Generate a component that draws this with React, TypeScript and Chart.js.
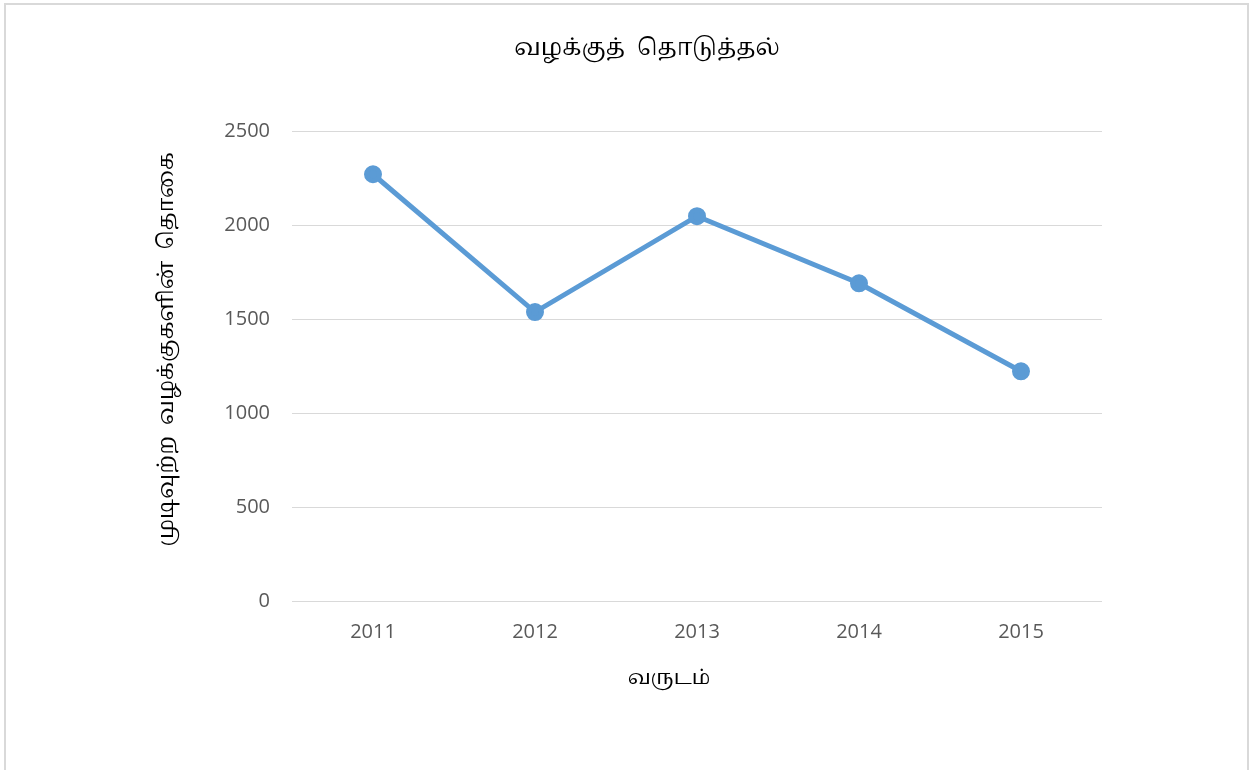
import React, { useEffect, useRef } from "react";
import { Chart, registerables } from "chart.js";

Chart.register(...registerables);

const years = ["2011", "2012", "2013", "2014", "2015"];
const completedCases = [2270, 1537, 2047, 1690, 1222];
const chartTitle = "வழக்குத்  தொடுத்தல்";
const yTitle = "முடிவுற்ற  வழக்குகளின்  தொகை";
const xTitle = "வருடம்";

const tamilFont = "'Noto Serif Tamil', 'Noto Sans Tamil', serif";
const tickFont = "'Open Sans', 'Noto Sans', sans-serif";

const titlesPlugin = {
  id: "customTitles",
  afterDraw(chart: any) {
    const ctx = chart.ctx;
    ctx.save();
    ctx.fillStyle = "#000000";
    ctx.textAlign = "center";
    ctx.textBaseline = "middle";
    ctx.font = `23px ${tamilFont}`;
    ctx.fillText(chartTitle, 647, 51);
    ctx.font = `20px ${tamilFont}`;
    ctx.fillText(xTitle, 669, 680);
    ctx.font = `21.5px ${tamilFont}`;
    ctx.translate(169, 349);
    ctx.rotate(-Math.PI / 2);
    ctx.fillText(yTitle, 0, 0);
    ctx.restore();
  },
};

export default function App() {
  const ref = useRef<HTMLCanvasElement | null>(null);
  useEffect(() => {
    if (!ref.current) return;
    const chart = new Chart(ref.current, {
      type: "line",
      data: {
        labels: years,
        datasets: [
          {
            data: completedCases,
            borderColor: "#5b9bd5",
            backgroundColor: "#5b9bd5",
            borderWidth: 5,
            pointRadius: 6.5,
            pointHoverRadius: 6.5,
            pointBackgroundColor: "#5b9bd5",
            pointBorderColor: "#5b9bd5",
            tension: 0,
          },
        ],
      },
      plugins: [titlesPlugin],
      options: {
        responsive: false,
        animation: false,
        layout: { padding: { left: 150, right: 151, top: 131, bottom: 60 } },
        plugins: {
          legend: { display: false },
          tooltip: { enabled: false },
          title: { display: false },
        },
        scales: {
          x: {
            offset: true,
            grid: { display: false, drawTicks: false },
            border: { display: false },
            ticks: { color: "#595959", font: { family: tickFont, size: 20 }, padding: 19 },
            afterFit: (s: any) => {
              s.height = 109;
            },
          },
          y: {
            min: 0,
            max: 2500,
            ticks: {
              stepSize: 500,
              color: "#595959",
              font: { family: tickFont, size: 20 },
              padding: 22,
              callback: (v: any) => String(v),
            },
            grid: { color: "#d9d9d9", lineWidth: 1, drawTicks: false },
            border: { display: false },
            afterFit: (s: any) => {
              s.width = 142;
            },
          },
        },
      },
    });
    return () => chart.destroy();
  }, []);

  return (
    <div style={{ position: "absolute", left: 0, top: 0, width: 1253, height: 770, overflow: "hidden", background: "#fff" }}>
      <div
        style={{
          position: "absolute",
          left: 4,
          top: 3,
          width: 1245,
          height: 800,
          border: "2px solid #d9d9d9",
          boxSizing: "border-box",
        }}
      />
      <canvas ref={ref} width={1253} height={770} style={{ position: "absolute", left: 0, top: 0 }} />
    </div>
  );
}
